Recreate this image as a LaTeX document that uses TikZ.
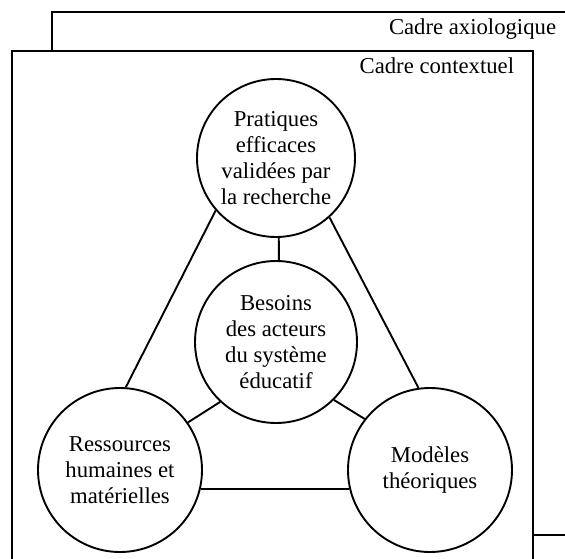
\documentclass[tikz,border=0pt]{standalone}
\usepackage{fontspec}
\setmainfont{Liberation Serif}
\begin{document}
\begin{tikzpicture}[x=1pt,y=-1pt, line width=1.9pt,
  bubble/.style={circle, draw, minimum size=164pt, inner sep=0pt, align=center, font=\fontsize{22.7}{26}\selectfont},
  link/.style={draw, line width=1.9pt},
  framelabel/.style={anchor=base east, inner sep=0pt, font=\fontsize{22.7}{26}\selectfont}]
\clip (0,0) rectangle (565,559);
\draw (52,12) rectangle (600,535);
\filldraw[fill=white] (12,51) rectangle (533,600);
\node[framelabel] (axio) at (557,35) {Cadre axiologique};
\node[framelabel] (ctx) at (515,74) {Cadre contextuel};
\node[bubble, minimum size=158pt] (pra) at (276,158) {Pratiques\\efficaces\\validées par\\la recherche};
\node[bubble, minimum size=162pt] (bes) at (276,342) {Besoins\\des acteurs\\du système\\éducatif};
\node[bubble] (res) at (120,470) {Ressources\\humaines et\\matérielles};
\node[bubble] (mod) at (430,470) {Modèles\\théoriques};
\draw[link] (pra.272) -- (bes.88);
\draw[link] (pra.221) -- (res.86);
\draw[link] (pra.312) -- (mod.98);
\draw[link] (bes.227) -- (res.35);
\draw[link] (bes.315) -- (mod.142);
\draw[link] (res.-13) -- (mod.193);
\end{tikzpicture}
\end{document}
